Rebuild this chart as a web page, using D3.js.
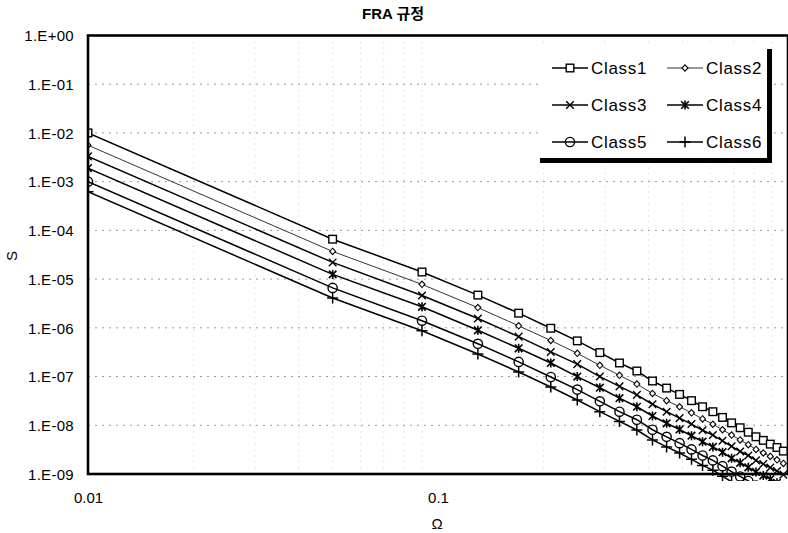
<!DOCTYPE html>
<html>
<head>
<meta charset="utf-8">
<script src="https://cdn.jsdelivr.net/npm/d3@7"></script>
<style>
  body { margin: 0; background: #fff; }
  svg text { font-family: "Liberation Sans", Arial, "Noto Sans CJK KR", sans-serif; fill: #000; }
</style>
</head>
<body>
<div class="container"></div>
<script>
// data
var omega = [0.01, 0.05, 0.09, 0.13, 0.17, 0.21, 0.25, 0.29, 0.33, 0.37, 0.41, 0.45, 0.49,
  0.53, 0.57, 0.61, 0.65, 0.69, 0.73, 0.77, 0.81, 0.85, 0.89, 0.93, 0.97];
var class1 = [1.0e-2, 6.6e-5, 1.4e-5, 4.7e-6, 2.0e-6, 9.8e-7, 5.4e-7, 3.1e-7, 1.9e-7, 1.3e-7, 8.1e-8, 5.8e-8, 4.3e-8,
  3.2e-8, 2.4e-8, 1.9e-8, 1.45e-8, 1.12e-8, 8.9e-9, 7.2e-9, 5.8e-9, 4.9e-9, 4.1e-9, 3.5e-9, 2.95e-9];
var class2 = [5.6e-3, 3.7e-5, 7.8e-6, 2.6e-6, 1.1e-6, 5.5e-7, 3.0e-7, 1.7e-7, 1.06e-7, 7.0e-8, 4.5e-8, 3.2e-8, 2.4e-8,
  1.8e-8, 1.35e-8, 1.05e-8, 8.1e-9, 6.3e-9, 5.0e-9, 4.0e-9, 3.2e-9, 2.7e-9, 2.3e-9, 1.95e-9, 1.65e-9];
var class3 = [3.3e-3, 2.2e-5, 4.6e-6, 1.55e-6, 6.6e-7, 3.2e-7, 1.8e-7, 1.0e-7, 6.3e-8, 4.2e-8, 2.7e-8, 1.9e-8, 1.4e-8,
  1.06e-8, 7.9e-9, 6.3e-9, 4.8e-9, 3.7e-9, 2.9e-9, 2.4e-9, 1.9e-9, 1.6e-9, 1.35e-9, 1.15e-9, 9.7e-10];
var class4 = [1.9e-3, 1.25e-5, 2.7e-6, 8.9e-7, 3.8e-7, 1.9e-7, 1.0e-7, 5.9e-8, 3.6e-8, 2.4e-8, 1.55e-8, 1.1e-8, 8.2e-9,
  6.1e-9, 4.6e-9, 3.6e-9, 2.8e-9, 2.1e-9, 1.7e-9, 1.37e-9, 1.1e-9, 9.3e-10, 7.8e-10, 6.6e-10, 5.6e-10];
var class5 = [1.0e-3, 6.6e-6, 1.4e-6, 4.7e-7, 2.0e-7, 9.8e-8, 5.4e-8, 3.1e-8, 1.9e-8, 1.3e-8, 8.1e-9, 5.8e-9, 4.3e-9,
  3.2e-9, 2.4e-9, 1.9e-9, 1.45e-9, 1.12e-9, 8.9e-10, 7.2e-10, 5.8e-10, 4.9e-10, 4.1e-10, 3.5e-10, 2.95e-10];
var class6 = [6.2e-4, 4.1e-6, 8.7e-7, 2.9e-7, 1.24e-7, 6.1e-8, 3.3e-8, 1.9e-8, 1.2e-8, 8.0e-9, 5.0e-9, 3.6e-9, 2.7e-9,
  2.0e-9, 1.5e-9, 1.2e-9, 9.0e-10, 6.9e-10, 5.5e-10, 4.5e-10, 3.6e-10, 3.0e-10, 2.5e-10, 2.2e-10, 1.8e-10];

var seriesNames = ['Class1', 'Class2', 'Class3', 'Class4', 'Class5', 'Class6'];
var seriesValues = [class1, class2, class3, class4, class5, class6];
var markerTypes = ['square', 'diamond', 'times', 'asterisk', 'circle', 'plus'];

var xTicks = [0.01, 0.1];
var yTicks = [1, 1e-1, 1e-2, 1e-3, 1e-4, 1e-5, 1e-6, 1e-7, 1e-8, 1e-9];
var xMinorGrid = [0.02, 0.03, 0.04, 0.05, 0.06, 0.07, 0.08, 0.09, 0.2, 0.3, 0.4, 0.5, 0.6, 0.7, 0.8, 0.9];

(function() {
  var opts = { width: 788, height: 533, left: 88, right: 788, top: 35.5, bottom: 474 };

  var svg = d3.select('div.container').append('svg')
    .attr('width', opts.width).attr('height', opts.height);

  var x = d3.scaleLog().domain([0.01, 1]).range([opts.left, opts.right]);
  var y = d3.scaleLog().domain([1e-9, 1]).range([opts.bottom, opts.top]);

  // clip (lines run a little past the bottom axis in the original)
  svg.append('clipPath').attr('id', 'plotclip')
    .append('rect')
    .attr('x', opts.left).attr('y', opts.top)
    .attr('width', opts.right - opts.left).attr('height', opts.bottom - opts.top + 7);

  // gridlines, faint dotted
  svg.append('g').selectAll('line').data(xMinorGrid).enter().append('line')
    .attr('x1', function(d) { return x(d); }).attr('x2', function(d) { return x(d); })
    .attr('y1', opts.top).attr('y2', opts.bottom)
    .attr('stroke', '#c8c8c8').attr('stroke-width', 1).attr('stroke-dasharray', '1,5');
  svg.append('g').selectAll('line').data(yTicks).enter().append('line')
    .attr('x1', opts.left).attr('x2', opts.right)
    .attr('y1', function(d) { return y(d); }).attr('y2', function(d) { return y(d); })
    .attr('stroke', '#999').attr('stroke-width', 1).attr('stroke-dasharray', '2,5');

  // marker shapes
  var marker = function(g, type) {
    var s;
    if (type === 'square') {
      g.append('rect').attr('x', -3.8).attr('y', -3.8).attr('width', 7.6).attr('height', 7.6)
        .attr('fill', '#fff').attr('stroke', '#000').attr('stroke-width', 1.4);
    } else if (type === 'diamond') {
      g.append('path').attr('d', 'M0,-3.2L3,0L0,3.2L-3,0Z')
        .attr('fill', '#fff').attr('stroke', '#000').attr('stroke-width', 1.1);
    } else if (type === 'times') {
      s = 3.8;
      g.append('path').attr('d', 'M' + -s + ',' + -s + 'L' + s + ',' + s + 'M' + -s + ',' + s + 'L' + s + ',' + -s)
        .attr('stroke', '#000').attr('stroke-width', 1.4);
    } else if (type === 'asterisk') {
      s = 3.8;
      g.append('path').attr('d', 'M' + -s + ',' + -s + 'L' + s + ',' + s + 'M' + -s + ',' + s + 'L' + s + ',' + -s +
          'M0,-4.5L0,4.5')
        .attr('stroke', '#000').attr('stroke-width', 1.6);
    } else if (type === 'circle') {
      g.append('circle').attr('r', 4.6)
        .attr('fill', 'none').attr('stroke', '#000').attr('stroke-width', 1.4);
    } else if (type === 'plus') {
      g.append('path').attr('d', 'M-5.5,0L5.5,0M0,-5.5L0,5.5')
        .attr('stroke', '#000').attr('stroke-width', 1.5);
    }
  };

  var line = d3.line()
    .x(function(d) { return x(d[0]); })
    .y(function(d) { return y(d[1]); });

  var plot = svg.append('g').attr('clip-path', 'url(#plotclip)');

  seriesValues.forEach(function(vals, i) {
    var pts = omega.map(function(w, j) { return [w, vals[j]]; });
    plot.append('path').datum(pts)
      .attr('d', line)
      .attr('fill', 'none')
      .attr('stroke', i === 1 ? '#333' : '#000')
      .attr('stroke-width', i === 1 ? 1 : 1.5);
    plot.append('g').selectAll('g').data(pts).enter().append('g')
      .attr('transform', function(d) { return 'translate(' + x(d[0]) + ',' + y(d[1]) + ')'; })
      .each(function() { marker(d3.select(this), markerTypes[i]); });
  });

  // plot frame
  svg.append('rect')
    .attr('x', opts.left).attr('y', opts.top)
    .attr('width', opts.right - opts.left).attr('height', opts.bottom - opts.top)
    .attr('fill', 'none').attr('stroke', '#000').attr('stroke-width', 2.6);

  // axes
  var yFmt = function(d) {
    var e = Math.round(Math.log10(d));
    return '1.E' + (e < 0 ? '-' : '+') + (Math.abs(e) < 10 ? '0' : '') + Math.abs(e);
  };
  var yAxis = svg.append('g')
    .attr('transform', 'translate(' + (opts.left - 14) + ',0)')
    .call(d3.axisLeft(y).tickValues(yTicks).tickFormat(yFmt).tickSize(0).tickPadding(0));
  yAxis.select('.domain').remove();
  yAxis.selectAll('text').style('font-size', '15px').style('letter-spacing', '0.3px').attr('dy', '0.35em');

  var xAxis = svg.append('g')
    .attr('transform', 'translate(0,' + (opts.bottom + 18) + ')')
    .call(d3.axisBottom(x).tickValues(xTicks).tickFormat(function(d) { return String(d); }).tickSize(0).tickPadding(0));
  xAxis.select('.domain').remove();
  xAxis.selectAll('text').style('font-size', '15px');

  // titles
  svg.append('text').attr('x', 393).attr('y', 19).attr('text-anchor', 'middle')
    .style('font-size', '15px').style('font-weight', '600').text('FRA 규정');
  svg.append('text').attr('x', 437).attr('y', 529).attr('text-anchor', 'middle')
    .style('font-size', '15px').text('Ω');
  svg.append('text').attr('transform', 'translate(17,256) rotate(-90)').attr('text-anchor', 'middle')
    .style('font-size', '15px').text('S');

  // legend with heavy shadow on right and bottom
  var lg = svg.append('g');
  lg.append('rect').attr('x', 540).attr('y', 47).attr('width', 228).attr('height', 111).attr('fill', '#fff');
  lg.append('rect').attr('x', 767).attr('y', 49).attr('width', 5).attr('height', 114).attr('fill', '#000');
  lg.append('rect').attr('x', 540).attr('y', 158).attr('width', 232).attr('height', 5).attr('fill', '#000');

  var cols = [552, 667];
  var rows = [68, 105, 142];
  seriesNames.forEach(function(name, i) {
    var lx = cols[i % 2], ly = rows[Math.floor(i / 2)];
    lg.append('line').attr('x1', lx).attr('x2', lx + 36).attr('y1', ly).attr('y2', ly)
      .attr('stroke', i === 1 ? '#333' : '#000').attr('stroke-width', i === 1 ? 1 : 1.5);
    marker(lg.append('g').attr('transform', 'translate(' + (lx + 18) + ',' + ly + ')'), markerTypes[i]);
    lg.append('text').attr('x', lx + 39).attr('y', ly).attr('dy', '0.35em')
      .style('font-size', '17px').style('letter-spacing', '0.7px').text(name);
  });
}).call(this);
</script>
</body>
</html>
